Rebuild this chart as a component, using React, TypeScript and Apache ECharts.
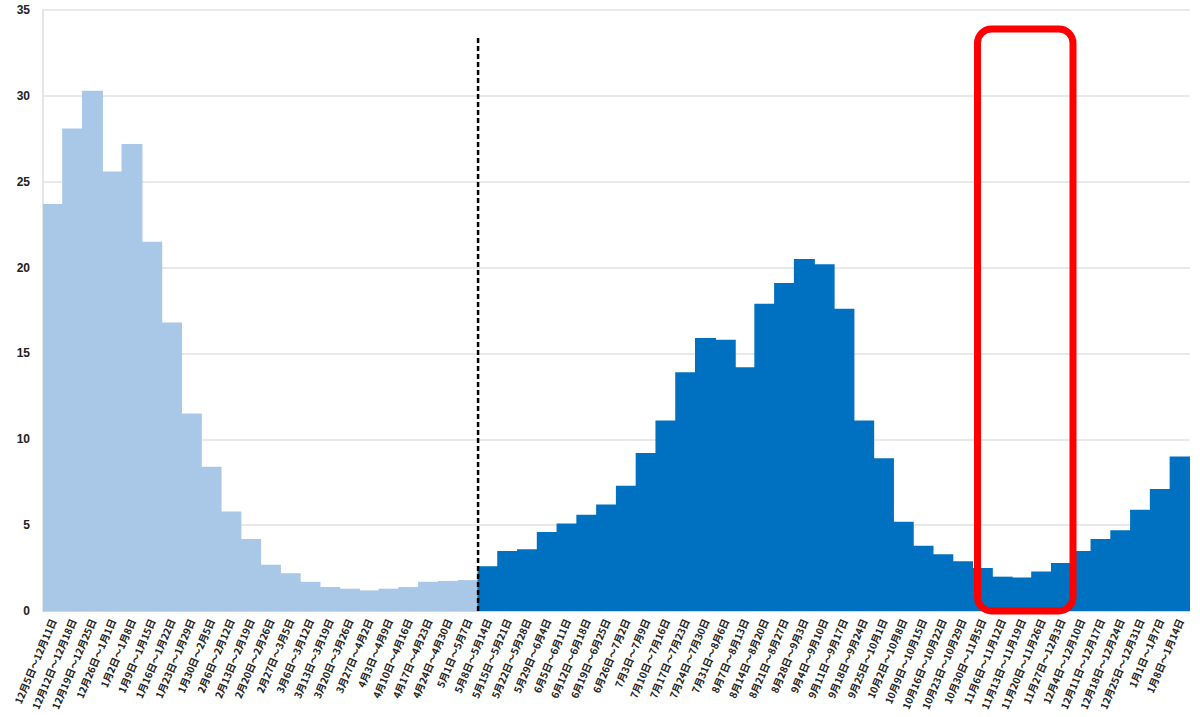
import React, { useEffect, useRef } from "react";
import * as echarts from "echarts";

const weeks: string[] = [
  "12月5日～12月11日", "12月12日～12月18日", "12月19日～12月25日", "12月26日～1月1日",
  "1月2日～1月8日", "1月9日～1月15日", "1月16日～1月22日", "1月23日～1月29日",
  "1月30日～2月5日", "2月6日～2月12日", "2月13日～2月19日", "2月20日～2月26日",
  "2月27日～3月5日", "3月6日～3月12日", "3月13日～3月19日", "3月20日～3月26日",
  "3月27日～4月2日", "4月3日～4月9日", "4月10日～4月16日", "4月17日～4月23日",
  "4月24日～4月30日", "5月1日～5月7日", "5月8日～5月14日", "5月15日～5月21日",
  "5月22日～5月28日", "5月29日～6月4日", "6月5日～6月11日", "6月12日～6月18日",
  "6月19日～6月25日", "6月26日～7月2日", "7月3日～7月9日", "7月10日～7月16日",
  "7月17日～7月23日", "7月24日～7月30日", "7月31日～8月6日", "8月7日～8月13日",
  "8月14日～8月20日", "8月21日～8月27日", "8月28日～9月3日", "9月4日～9月10日",
  "9月11日～9月17日", "9月18日～9月24日", "9月25日～10月1日", "10月2日～10月8日",
  "10月9日～10月15日", "10月16日～10月22日", "10月23日～10月29日", "10月30日～11月5日",
  "11月6日～11月12日", "11月13日～11月19日", "11月20日～11月26日", "11月27日～12月3日",
  "12月4日～12月10日", "12月11日～12月17日", "12月18日～12月24日", "12月25日～12月31日",
  "1月1日～1月7日", "1月8日～1月14日",
];

// Light blue bars (earlier period)
const earlierValues: number[] = [
  23.7, 28.1, 30.3, 25.6, 27.2, 21.5, 16.8, 11.5, 8.4, 5.8, 4.2,
  2.7, 2.2, 1.7, 1.4, 1.3, 1.2, 1.3, 1.4, 1.7, 1.75, 1.8,
];

// Dark blue bars (later period)
const laterValues: number[] = [
  2.6, 3.5, 3.6, 4.6, 5.1, 5.6, 6.2, 7.3, 9.2, 11.1, 13.9, 15.9,
  15.8, 14.2, 17.9, 19.1, 20.5, 20.2, 17.6, 11.1, 8.9, 5.2, 3.8, 3.3,
  2.9, 2.5, 2.0, 1.95, 2.3, 2.8, 3.5, 4.2, 4.7, 5.9, 7.1, 9.0,
];

const yTicks = { min: 0, max: 35, interval: 5 };
const dividerIndex = earlierValues.length; // boundary between periods
const dividerTop = 33.5;

const lightBlue = "#a9c8e8";
const darkBlue = "#0070c0";

export default function App() {
  const ref = useRef<HTMLDivElement>(null);

  useEffect(() => {
    document.body.style.margin = "0";
    if (!ref.current) return;
    const chart = echarts.init(ref.current, undefined, { renderer: "svg" });

    const n = weeks.length;
    const earlierData = weeks.map((_, i) => (i < earlierValues.length ? earlierValues[i] : "-"));
    const laterData = weeks.map((_, i) =>
      i >= dividerIndex && i - dividerIndex < laterValues.length ? laterValues[i - dividerIndex] : "-"
    );

    chart.setOption({
      animation: false,
      backgroundColor: "#ffffff",
      grid: { left: 43, right: 10, top: 10, bottom: 106, containLabel: false },
      xAxis: [
        {
          type: "category",
          data: weeks,
          boundaryGap: true,
          axisTick: { show: false },
          axisLine: { show: true, lineStyle: { color: "#d6d6d6", width: 1 } },
          axisLabel: {
            interval: 0,
            rotate: 67,
            margin: 8,
            fontSize: 10,
            fontWeight: "bold",
            color: "#222222",
            fontFamily: "Noto Sans CJK JP",
          },
        },
        {
          type: "value",
          min: 0,
          max: n,
          show: false,
        },
      ],
      yAxis: {
        type: "value",
        min: yTicks.min,
        max: yTicks.max,
        interval: yTicks.interval,
        axisLine: { show: true, lineStyle: { color: "#dcdcdc", width: 1.5 } },
        axisTick: { show: false },
        splitLine: { show: true, lineStyle: { color: "#e2e2e2", width: 1.5 } },
        axisLabel: {
          margin: 13,
          fontSize: 12,
          fontWeight: "bold",
          color: "#222222",
          fontFamily: "Liberation Sans",
        },
      },
      series: [
        {
          name: "earlier",
          type: "bar",
          stack: "all",
          data: earlierData,
          barWidth: "106%",
          itemStyle: { color: lightBlue },
        },
        {
          name: "later",
          type: "bar",
          stack: "all",
          data: laterData,
          barWidth: "106%",
          itemStyle: { color: darkBlue },
        },
        {
          name: "divider",
          type: "line",
          xAxisIndex: 1,
          data: [
            [dividerIndex, 0],
            [dividerIndex, dividerTop],
          ],
          symbol: "none",
          lineStyle: { color: "#000000", width: 2.5, type: [5, 3] },
          z: 5,
        },
      ],
      graphic: [
        {
          type: "rect",
          z: 100,
          shape: { x: 977.5, y: 29, width: 95.5, height: 582, r: 14 },
          style: { fill: "none", stroke: "#ff0000", lineWidth: 7 },
        },
      ],
    });

    return () => chart.dispose();
  }, []);

  return <div ref={ref} style={{ width: 1200, height: 717 }} />;
}
